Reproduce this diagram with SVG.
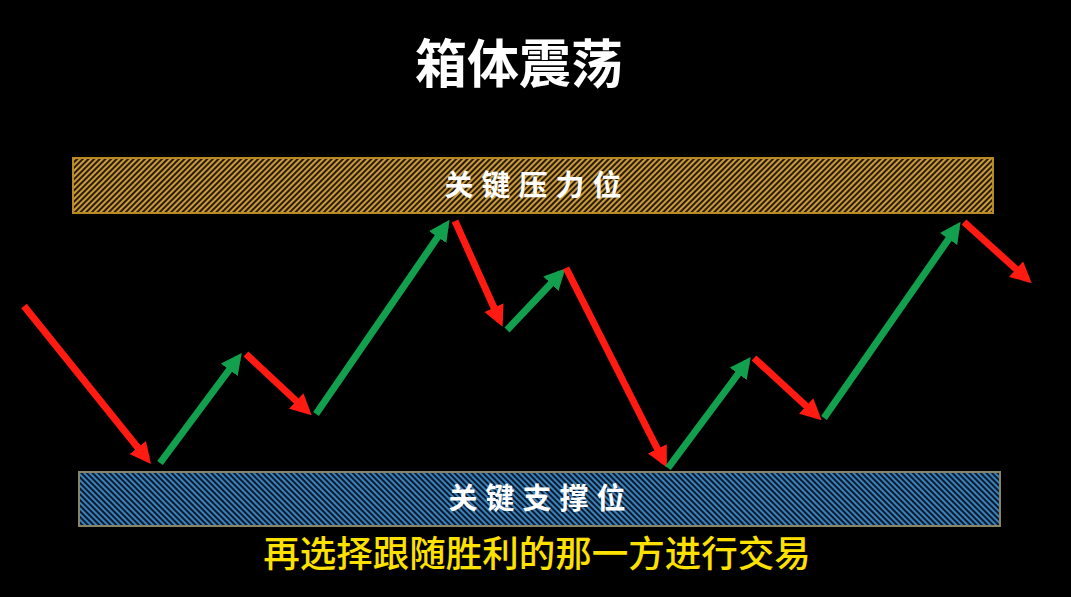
<svg xmlns="http://www.w3.org/2000/svg" width="1071" height="597" viewBox="0 0 1071 597">
<style>
.red{stroke:#ff1a12;stroke-width:7;fill:none;marker-end:url(#hr)}
.grn{stroke:#12a04e;stroke-width:7;fill:none;marker-end:url(#hg)}
.lbl{font-family:"Noto Sans CJK SC","Noto Sans",sans-serif;font-weight:700;fill:#fff;font-size:29px;letter-spacing:8px;text-anchor:middle}
</style>
<defs>
<pattern id="pt" patternUnits="userSpaceOnUse" width="4" height="4" patternTransform="rotate(45)">
<rect width="4" height="4" fill="#2a1c08"/><rect width="2" height="4" fill="#c99b3c"/>
</pattern>
<pattern id="pb" patternUnits="userSpaceOnUse" width="4" height="4" patternTransform="rotate(-45)">
<rect width="4" height="4" fill="#0b1a2e"/><rect width="2" height="4" fill="#3b82ba"/>
</pattern>
<marker id="hr" viewBox="0 0 10 10" refX="7" refY="5" markerWidth="3" markerHeight="3" orient="auto" markerUnits="strokeWidth"><path d="M0,0L10,5L0,10z" fill="#ff1a12"/></marker>
<marker id="hg" viewBox="0 0 10 10" refX="7" refY="5" markerWidth="3" markerHeight="3" orient="auto" markerUnits="strokeWidth"><path d="M0,0L10,5L0,10z" fill="#12a04e"/></marker>
</defs>
<rect width="1071" height="597" fill="#000"/>
<text x="519" y="83" font-family="'Noto Sans CJK SC',sans-serif" font-weight="700" font-size="52" fill="#fff" text-anchor="middle">箱体震荡</text>
<g id="resistance">
<rect x="73" y="158" width="920" height="55" fill="url(#pt)" stroke="#b88a22" stroke-width="2"/>
<text class="lbl" x="537" y="196">关键压力位</text>
</g>
<g id="support">
<rect x="79" y="472" width="921" height="54" fill="url(#pb)" stroke="#8a8466" stroke-width="2"/>
<text class="lbl" x="541" y="509">关键支撑位</text>
</g>
<g id="connectors">
<line class="red" x1="24" y1="306" x2="147" y2="459"/>
<line class="grn" x1="160" y1="463" x2="238" y2="358"/>
<line class="red" x1="246" y1="354" x2="307" y2="411"/>
<line class="grn" x1="316" y1="414" x2="446" y2="225"/>
<line class="red" x1="455" y1="221" x2="500" y2="321"/>
<line class="grn" x1="507" y1="330" x2="561" y2="273"/>
<line class="red" x1="566" y1="268" x2="664" y2="462"/>
<line class="grn" x1="668" y1="468" x2="747" y2="362"/>
<line class="red" x1="754" y1="358" x2="817" y2="416"/>
<line class="grn" x1="824" y1="418" x2="957" y2="227"/>
<line class="red" x1="964" y1="222" x2="1027" y2="279"/>
</g>
<text x="537" y="567" font-family="'Noto Sans CJK SC',sans-serif" font-weight="500" font-size="36.5" fill="#ffe100" text-anchor="middle">再选择跟随胜利的那一方进行交易</text>
</svg>
